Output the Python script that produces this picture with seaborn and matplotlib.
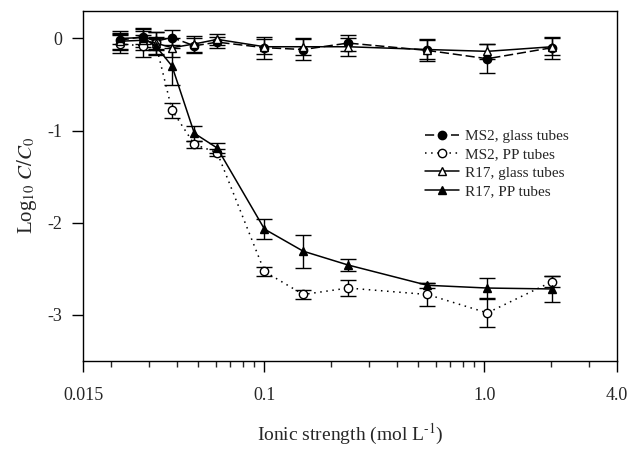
import numpy as np
import pandas as pd
import matplotlib
matplotlib.use("Agg")
import matplotlib.pyplot as plt
from matplotlib.ticker import FixedLocator, NullFormatter
import seaborn as sns

# --- data ---
ionic = [0.022, 0.028, 0.032, 0.038, 0.048, 0.061, 0.1, 0.15, 0.24, 0.55, 1.03, 2.03]

ms2_glass = [-0.02, 0.02, -0.03, 0.01, -0.08, -0.04, -0.10, -0.12, -0.05, -0.13, -0.22, -0.10]
ms2_glass_err = [0.10, 0.08, 0.10, 0.08, 0.08, 0.06, 0.12, 0.11, 0.09, 0.12, 0.16, 0.12]

ms2_pp = [-0.06, -0.08, -0.05, -0.78, -1.15, -1.24, -2.53, -2.78, -2.71, -2.78, -2.98, -2.64]
ms2_pp_err = [0.10, 0.12, 0.06, 0.08, 0.04, 0.04, 0.05, 0.05, 0.09, 0.12, 0.15, 0.06]

r17_glass = [-0.03, -0.02, -0.05, -0.10, -0.06, -0.01, -0.09, -0.09, -0.09, -0.12, -0.14, -0.09]
r17_glass_err = [0.08, 0.10, 0.12, 0.10, 0.09, 0.06, 0.08, 0.09, 0.10, 0.10, 0.08, 0.09]

r17_pp = [0.00, 0.01, -0.08, -0.30, -1.03, -1.19, -2.07, -2.31, -2.46, -2.68, -2.71, -2.72]
r17_pp_err = [0.06, 0.10, 0.10, 0.20, 0.08, 0.05, 0.11, 0.18, 0.07, 0.03, 0.11, 0.14]

labels = ["MS2, glass tubes", "MS2, PP tubes", "R17, glass tubes", "R17, PP tubes"]

# --- theme ---
sns.set_style("ticks")
plt.rcParams["font.family"] = ["Liberation Serif", "DejaVu Serif"]
plt.rcParams["mathtext.fontset"] = "stix"
plt.rcParams["axes.unicode_minus"] = False

series = [
    # values, errors, marker, face colour, linestyle
    (ms2_glass, ms2_glass_err, "o", "black", (0, (6, 2.5))),
    (ms2_pp, ms2_pp_err, "o", "white", (0, (1, 3))),
    (r17_glass, r17_glass_err, "^", "white", "-"),
    (r17_pp, r17_pp_err, "^", "black", "-"),
]

fig = plt.figure(figsize=(6.4, 4.51), dpi=100)
ax = fig.add_axes([0.13, 0.20, 0.834, 0.776])

for (vals, errs, mk, fc, ls), lab in zip(series, labels):
    ax.errorbar(ionic, vals, yerr=errs, fmt="none", ecolor="black",
                elinewidth=1.0, capsize=6, capthick=1.0, zorder=2)
    sns.lineplot(x=ionic, y=vals, ax=ax, color="black", linewidth=1.1,
                 linestyle=ls, marker=mk, markersize=6, markerfacecolor=fc,
                 markeredgecolor="black", markeredgewidth=1.0,
                 errorbar=None, label=lab, zorder=3)

ax.set_xscale("log")
ax.set_xlim(0.015, 4.0)
ax.set_ylim(-3.5, 0.3)

ax.xaxis.set_major_locator(FixedLocator([0.015, 0.1, 1.0, 4.0]))
ax.set_xticklabels(["0.015", "0.1", "1.0", "4.0"])
minor = [k * 0.01 for k in range(2, 10)] + [k * 0.1 for k in range(2, 10)] + [2.0, 3.0]
ax.xaxis.set_minor_locator(FixedLocator(minor))
ax.xaxis.set_minor_formatter(NullFormatter())
ax.set_yticks([0, -1, -2, -3])
ax.set_yticklabels(["0", "-1", "-2", "-3"])

ax.tick_params(axis="both", which="major", direction="out", length=8,
               width=1.0, labelsize=13, color="black", pad=11)
ax.tick_params(axis="x", which="minor", direction="out", length=4, width=1.0)
ax.tick_params(axis="y", which="major", pad=7)
for sp in ax.spines.values():
    sp.set_linewidth(1.0)
    sp.set_color("black")

ax.set_xlabel(r"Ionic strength (mol L$^{\text{-1}}$)", fontsize=14, labelpad=13)
ax.set_ylabel(r"Log$_{10}$ $C/C_0$", fontsize=15, labelpad=6)

ax.legend(loc="upper left", bbox_to_anchor=(0.615, 0.70), frameon=False,
          fontsize=11, handlelength=2.2, handletextpad=0.4, labelspacing=0.3)

fig.savefig("out.png", dpi=100, facecolor="white")
